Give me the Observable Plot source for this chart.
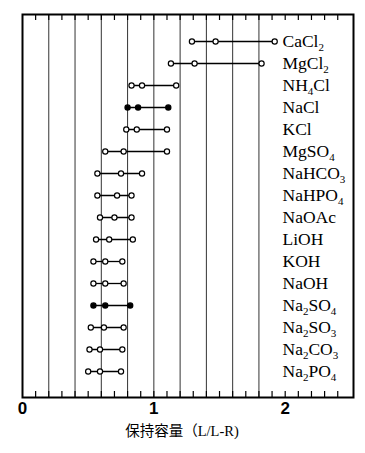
<!DOCTYPE html>
<html>
<head>
<meta charset="utf-8">
<script src="https://cdn.jsdelivr.net/npm/d3@7"></script>
<script src="https://cdn.jsdelivr.net/npm/@observablehq/plot@0.6"></script>
<style>
  html, body { margin: 0; padding: 0; background: white; }
</style>
</head>
<body>
<div id="chart"></div>
<script>
const salts = ["CaCl2","MgCl2","NH4Cl","NaCl","KCl","MgSO4","NaHCO3","NaHPO4","NaOAc","LiOH","KOH","NaOH","Na2SO4","Na2SO3","Na2CO3","Na2PO4"];
const low  = [1.29,1.13,0.83,0.80,0.79,0.63,0.57,0.57,0.59,0.56,0.54,0.54,0.54,0.52,0.51,0.50];
const mid  = [1.47,1.31,0.91,0.88,0.87,0.77,0.75,0.72,0.70,0.66,0.63,0.63,0.63,0.62,0.59,0.59];
const high = [1.92,1.82,1.17,1.11,1.10,1.10,0.91,0.83,0.83,0.84,0.76,0.77,0.82,0.77,0.76,0.75];
const filledSalts = ["NaCl","Na2SO4"];
const axisLabels = [0, 1, 2];
const gridTicks = [0.2,0.4,0.6,0.8,1.0,1.2,1.4,1.6,1.8];
const minorTicks = [0.1,0.2,0.3,0.4,0.5,0.6,0.7,0.8,0.9,1.0,1.1,1.2,1.3,1.4,1.5,1.6,1.7,1.8,1.9,2.0,2.1,2.2,2.3,2.4];
const xTitle = "保持容量（L/L-R)";

const points = salts.flatMap((s, i) => [low[i], mid[i], high[i]].map(v => ({
  salt: s, value: v, fill: filledSalts.includes(s) ? "black" : "white"
})));

const chart = Plot.plot({
  width: 365,
  height: 453,
  marginLeft: 22,
  marginRight: 12,
  marginTop: 14,
  marginBottom: 56,
  style: {background: "white", color: "black"},
  x: {domain: [0, 2.52]},
  y: {type: "point", domain: salts, padding: 1, axis: null},
  marks: [
    Plot.ruleX(gridTicks, {stroke: "#333", strokeWidth: 1}),
    Plot.ruleX(minorTicks, {stroke: "black", strokeWidth: 1.2, insetBottom: 377}),
    Plot.ruleX(minorTicks, {stroke: "black", strokeWidth: 1.2, insetTop: 377}),
    Plot.frame({stroke: "black", strokeWidth: 2}),
    Plot.ruleY(salts, {y: d => d, x1: (d, i) => low[i], x2: (d, i) => high[i], stroke: "black", strokeWidth: 1.3}),
    Plot.dot(points, {x: "value", y: "salt", r: 2.6, stroke: "black", strokeWidth: 1.2, fill: "fill"}),
    Plot.text(salts, {y: d => d, text: d => d, frameAnchor: "right", dx: -71, textAnchor: "start",
      fontSize: 17.5, fontFamily: "'Liberation Serif', 'Times New Roman', serif", fill: "black"}),
    Plot.axisX(axisLabels, {anchor: "bottom", tickSize: 0, tickPadding: 4, label: null,
      tickFormat: d => String(d), fontSize: 17, fontWeight: "bold", fontFamily: "'Liberation Sans', Arial, sans-serif"}),
    Plot.text([xTitle], {frameAnchor: "bottom", dy: 38, dx: -6, fontSize: 14.5,
      fontFamily: "'Liberation Serif', 'Noto Sans CJK JP', serif", fill: "black"})
  ]
});

// render subscripts for chemical formulas; serif Latin in the axis title
d3.select(chart).selectAll("text").each(function() {
  const t = this.textContent;
  const el = d3.select(this);
  if (t === xTitle) {
    el.text(null);
    t.split(/([A-Za-z\/\-\)]+)/).filter(p => p.length).forEach(p => {
      const ts = el.append("tspan").text(p);
      ts.attr("font-family", /^[A-Za-z\/\-\)]+$/.test(p)
        ? "'Liberation Serif', serif" : "'Noto Sans CJK JP', sans-serif");
    });
    return;
  }
  if (!salts.includes(t)) return;
  el.text(null);
  const parts = t.split(/(\d+)/).filter(p => p.length);
  let shifted = false;
  parts.forEach(p => {
    const ts = el.append("tspan").text(p);
    if (/^\d+$/.test(p)) {
      ts.attr("font-size", 11).attr("dy", 4);
      shifted = true;
    } else if (shifted) {
      ts.attr("dy", -4);
      shifted = false;
    }
  });
});

document.getElementById("chart").append(chart);
</script>
</body>
</html>
